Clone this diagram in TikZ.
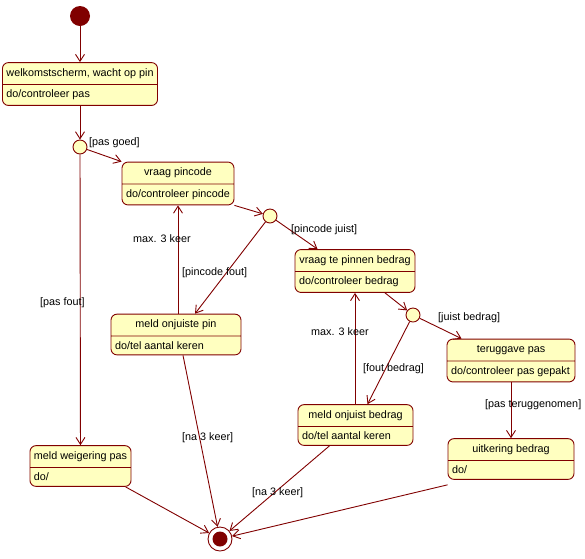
\documentclass[tikz,border=0pt]{standalone}
\usepackage{tikz}
\usetikzlibrary{positioning,shapes.multipart,arrows.meta}
\usepackage{fontspec}
\setmainfont{Liberation Sans}
\definecolor{lijn}{HTML}{800000}
\definecolor{vul}{HTML}{FFFFC0}

\begin{document}
\begin{tikzpicture}[x=1pt,y=-1pt,>={Straight Barb[length=7pt,width=9pt]},
	every node/.style={font=\fontsize{10.8}{12}\selectfont},%
	toestand/.style={draw=lijn, fill=vul, line width=.9pt,%
		rounded corners=6pt, rectangle split, rectangle split parts=2,%
		rectangle split part align={center,left},%
		inner xsep=4pt, inner ysep=5pt, text height=8pt, text depth=3pt},
	keuze/.style={circle, draw=lijn, fill=vul, line width=.9pt,%
		minimum size=14pt, inner sep=0pt},
	pijl/.style={->, draw=lijn, line width=.9pt},
	tekst/.style={anchor=west, inner sep=0pt}]
	\useasboundingbox (0,0) rectangle (585,558);
	
	% begin en eind
	\node[circle, fill=lijn, minimum size=20pt, inner sep=0pt] (start) at (80,16) {};
	\node[circle, draw=lijn, fill=white, line width=.9pt, minimum size=24pt, inner sep=0pt] (eind) at (220,539) {};
	\node[circle, fill=lijn, minimum size=15pt, inner sep=0pt] (eindkern) at (eind) {};
	
	% toestanden
	\node[toestand, minimum width=155pt] (welkom) at (80,84)
		{welkomstscherm, wacht op pin \nodepart{two} do/controleer pas};
	\node[toestand, minimum width=112pt] (pincode) at (178,183.5)
		{vraag pincode \nodepart{two} do/controleer pincode};
	\node[toestand, minimum width=120pt] (bedrag) at (355,271)
		{vraag te pinnen bedrag \nodepart{two} do/controleer bedrag};
	\node[toestand, minimum width=130pt] (onjuistpin) at (176,334.5)
		{meld onjuiste pin \nodepart{two} do/tel aantal keren};
	\node[toestand, minimum width=128pt] (teruggave) at (511,360.5)
		{teruggave pas \nodepart{two} do/controleer pas gepakt};
	\node[toestand, minimum width=115pt] (onjuistbedrag) at (355.5,425)
		{meld onjuist bedrag \nodepart{two} do/tel aantal keren};
	\node[toestand, minimum width=126pt] (uitkering) at (511,459)
		{uitkering bedrag \nodepart{two} do/};
	\node[toestand, minimum width=99pt] (weigering) at (80.5,466)
		{meld weigering pas \nodepart{two} do/};
	
	% keuzepunten
	\node[keuze] (k1) at (80,147) {};
	\node[keuze] (k2) at (270,216) {};
	\node[keuze] (k3) at (413,315) {};
	
	% overgangen
	\draw[pijl] (start) -- (welkom);
	\draw[pijl] (welkom) -- (k1);
	\draw[pijl] (k1) -- (pincode.north west);
	\draw[pijl] (k1) -- (weigering);
	\draw[pijl] (pincode.south east) -- (k2);
	\draw[pijl] (k2) -- ([xshift=23pt]bedrag.north west);
	\draw[pijl] (k2) -- ([xshift=19pt]onjuistpin.north);
	\draw[pijl] (onjuistpin.north -| pincode.south) -- (pincode.south);
	\draw[pijl] ([xshift=30pt]bedrag.south) -- (k3);
	\draw[pijl] (k3) -- ([xshift=15pt]teruggave.north west);
	\draw[pijl] (k3) -- ([xshift=12pt]onjuistbedrag.north);
	\draw[pijl] (onjuistbedrag.north -| bedrag.south) -- (bedrag.south);
	\draw[pijl] (teruggave.south) -- (teruggave.south |- uitkering.north);
	\draw[pijl] ([xshift=-6pt]weigering.south east) -- (eind);
	\draw[pijl] ([xshift=7pt]onjuistpin.south) -- (eind);
	\draw[pijl] ([xshift=-26pt]onjuistbedrag.south) -- (eind);
	\draw[pijl] ([yshift=-5pt]uitkering.south west) -- (eind);
	
	% voorwaarden
	\node[tekst] (lpasgoed) at (89,143) {[pas goed]};
	\node[tekst] (lpasfout) at (40,303) {[pas fout]};
	\node[tekst] (ljuist) at (291,230) {[pincode juist]};
	\node[tekst] (lfout) at (182,273) {[pincode fout]};
	\node[tekst] (lmax1) at (133,239) {max. 3 keer};
	\node[tekst] (lmax2) at (311,332) {max. 3 keer};
	\node[tekst] (ljuistbedrag) at (438,318) {[juist bedrag]};
	\node[tekst] (lfoutbedrag) at (363,369) {[fout bedrag]};
	\node[tekst] (lterug) at (485,405) {[pas teruggenomen]};
	\node[tekst] (lna1) at (182,438) {[na 3 keer]};
	\node[tekst] (lna2) at (252,493) {[na 3 keer]};
\end{tikzpicture}
\end{document}
